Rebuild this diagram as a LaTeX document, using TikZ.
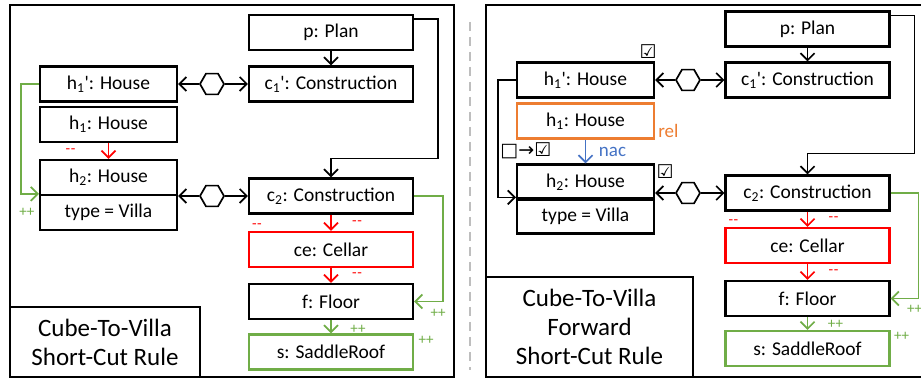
\documentclass[tikz,border=0pt]{standalone}
\usepackage{fontspec}
\setmainfont{Carlito}
\newfontfamily\symfont{DejaVu Sans}
\usetikzlibrary{arrows.meta,shapes.geometric}
\definecolor{rulegreen}{RGB}{112,173,71}
\definecolor{rulered}{RGB}{255,0,0}
\definecolor{ruleorange}{RGB}{237,125,49}
\definecolor{ruleblue}{RGB}{68,114,196}
\definecolor{rulegrey}{RGB}{190,190,190}
\newcommand{\minus}{-\kern0.6pt-}
\newcommand{\prm}{\textquotesingle}

\begin{document}
\begin{tikzpicture}[x=1pt, y=-1pt,
                    obj/.style = {
                      rectangle, draw, line width=2.2pt, inner sep=0pt,
                      minimum height=35pt,
                      font=\fontsize{19.5}{22}\selectfont
                    },
                    wide/.style = {obj, minimum width=164pt},
                    narrow/.style = {obj, minimum width=137pt},
                    hex/.style = {
                      regular polygon, regular polygon sides=6, draw,
                      line width=1.7pt, minimum size=24pt, inner sep=0pt,
                      fill=white
                    },
                    link/.style = {
                      line width=1.7pt,
                      -{Straight Barb[length=7pt,width=14pt]}
                    },
                    dellbl/.style = {text=rulered, inner sep=0pt,
                      font=\fontsize{15}{15}\selectfont},
                    addlbl/.style = {text=rulegreen, inner sep=0pt,
                      font=\fontsize{15}{15}\selectfont},
                    chk/.style = {inner sep=0pt,
                      font=\symfont\fontsize{19}{19}\selectfont},
                    title/.style = {
                      rectangle, draw, line width=2.2pt, align=center,
                      font=\fontsize{25}{29}\selectfont
                    },
                    frame/.style = {line width=2.2pt}]
    \useasboundingbox (0,0) rectangle (921,379);

    % short-cut rule
    \draw[frame] (10,5) rectangle (454,377);
    \node[wide] (p) at (331,32.5) {p: Plan};
    \node[wide] (c1p) at (331,84) {c\textsubscript{1}\prm: Construction};
    \node[narrow] (h1p) at (108.5,84) {h\textsubscript{1}\prm: House};
    \node[narrow] (h1) at (108.5,124.5) {h\textsubscript{1}: House};
    \node[narrow] (h2) at (108.5,177.5) {h\textsubscript{2}: House};
    \node[narrow] (h2attr) at (108.5,212.5) {type = Villa};
    \node[wide] (c2) at (331,196) {c\textsubscript{2}: Construction};
    \node[wide, draw=rulered] (ce) at (331,249.5) {ce: Cellar};
    \node[wide] (f) at (331,301.5) {f: Floor};
    \node[wide, draw=rulegreen] (s) at (331,352) {s: SaddleRoof};
    \node[hex] (hexa) at (212,84) {};
    \node[hex] (hexb) at (212,196) {};
    \node[title, minimum width=190pt, minimum height=70pt] (ltitle)
      at (105,342) {Cube-To-Villa\\Short-Cut Rule};

    \draw[link] (p) -- (c1p);
    \draw[link] ([yshift=-5pt]p.north east) -- ++(24,0)
      |- ([yshift=19pt]c2.north) -- (c2.north);
    \draw[link] (hexa) -- (h1p);
    \draw[link] (hexa) -- (c1p);
    \draw[link] (hexb) -- (hexb -| h2.east);
    \draw[link] (hexb) -- (c2);
    \draw[link, rulegreen] (h1p.west) -- ++(-18,0) |- (h2attr.north west);
    \draw[link, rulered] (h1) -- (h2)
      node[midway, xshift=-38pt, dellbl] {\minus};
    \draw[link, rulered] (c2) -- (ce)
      node[midway, xshift=26pt, dellbl] {\minus};
    \draw[link, rulered] (ce) -- (f)
      node[midway, xshift=26pt, dellbl] {\minus};
    \draw[link, rulegreen] (f) -- (s)
      node[midway, xshift=27pt, yshift=-3pt, addlbl] {++};
    \draw[link, rulegreen] (c2.east) -- ++(29,0) |- (f.east);
    \node[addlbl] (plusf) at ([xshift=24pt,yshift=-12pt]f.east) {++};
    \node[addlbl] (pluss) at ([xshift=12pt,yshift=-7pt]s.north east) {++};
    \node[dellbl] (minusce) at ([xshift=9pt,yshift=5pt]ce.north west) {\minus};
    \node[addlbl] (plush2) at ([xshift=-12pt,yshift=-18pt]h2attr.north west) {++};

    \draw[rulegrey, line width=1.4pt, dash pattern=on 9pt off 6pt] (470,22) -- (470,370);

    % forward short-cut rule
    \draw[frame] (486,5) rectangle (935,377);
    \node[wide] (rp) at (807.5,29) {p: Plan};
    \node[wide] (rc1p) at (807.5,80) {c\textsubscript{1}\prm: Construction};
    \node[narrow] (rh1p) at (585.5,80) {h\textsubscript{1}\prm: House};
    \node[narrow, draw=ruleorange] (rh1) at (585.5,121) {h\textsubscript{1}: House};
    \node[narrow] (rh2) at (585.5,182) {h\textsubscript{2}: House};
    \node[narrow] (rh2attr) at (585.5,216) {type = Villa};
    \node[wide] (rc2) at (807.5,193) {c\textsubscript{2}: Construction};
    \node[wide, draw=rulered] (rce) at (807.5,245.5) {ce: Cellar};
    \node[wide] (rf) at (807.5,298.5) {f: Floor};
    \node[wide, draw=rulegreen] (rs) at (807.5,348.5) {s: SaddleRoof};
    \node[hex] (rhexa) at (688,80) {};
    \node[hex] (rhexb) at (688,193) {};
    \node[title, minimum width=207pt, minimum height=100pt] (rtitle)
      at (589.5,327) {Cube-To-Villa\\Forward\\Short-Cut Rule};

    \draw[link] (rp) -- (rc1p);
    \draw[link] ([yshift=-5pt]rp.north east) -- ++(24,0)
      |- ([yshift=21pt]rc2.north) -- (rc2.north);
    \draw[link] (rhexa) -- (rh1p);
    \draw[link] (rhexa) -- (rc1p);
    \draw[link] (rhexb) -- (rhexb -| rh2.east);
    \draw[link] (rhexb) -- (rc2);
    \draw[link] (rh1p.west) -- ++(-18,0) |- (rh2attr.north west);
    \draw[link, ruleblue] (rh1) -- (rh2)
      node[midway, xshift=27pt, text=ruleblue, font=\fontsize{19}{19}\selectfont] {nac};
    \node[anchor=west, inner sep=0pt, text=ruleorange,
          font=\fontsize{19}{19}\selectfont] (rel)
      at ([xshift=3pt,yshift=-10pt]rh1.east) {rel};
    \draw[link, rulered] (rc2) -- (rce)
      node[midway, xshift=26pt, dellbl] {\minus};
    \draw[link, rulered] (rce) -- (rf)
      node[midway, xshift=26pt, dellbl] {\minus};
    \draw[link, rulegreen] (rf) -- (rs)
      node[midway, xshift=28pt, yshift=-1pt, addlbl] {++};
    \draw[link, rulegreen] (rc2.east) -- ++(28,0) |- (rf.east);
    \node[addlbl] (rplusf) at ([xshift=24pt,yshift=-11pt]rf.east) {++};
    \node[addlbl] (rpluss) at ([xshift=11pt,yshift=-6pt]rs.north east) {++};
    \node[dellbl] (rminusce) at ([xshift=9pt,yshift=5pt]rce.north west) {\minus};
    \node[chk] (chkh1p) at ([xshift=-7pt,yshift=10pt]rh1p.north east) {☑};
    \node[chk] (chkh2) at ([xshift=10pt,yshift=-8pt]rh2.north east) {☑};
    \node[chk] (chkrule) at ([xshift=10pt,yshift=13pt]rh2.north west) {□→☑};
\end{tikzpicture}
\end{document}
